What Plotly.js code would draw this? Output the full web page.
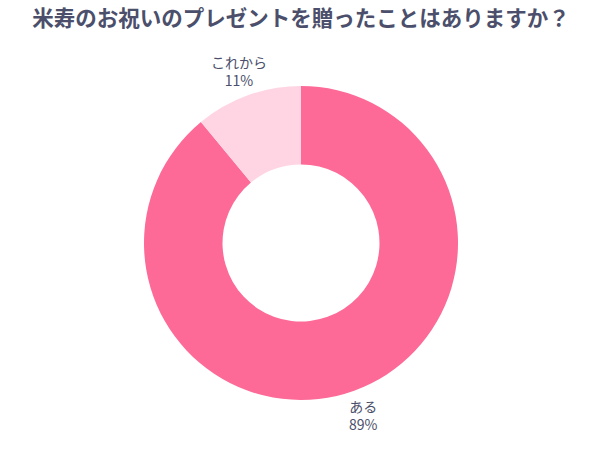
<!DOCTYPE html>
<html>
<head>
<meta charset="utf-8">
<script src="https://cdn.plot.ly/plotly-3.0.1.min.js"></script>
<style>
  html, body { margin: 0; padding: 0; background: #fff; }
  #chart { width: 602px; height: 451px; }
</style>
</head>
<body>
<div id="chart"></div>
<script>
// answers and shares (%)
var labels = ['ある', 'これから'];
var values = [89, 11];
var colors = ['#FE6A98', '#FFD5E3'];

var textColor = '#4B4F6B';
var font = '"Noto Sans CJK JP", "Noto Sans", sans-serif';

// plot area is square (314px), labels sit a bit outside the ring on each slice's mid angle
var labelRadius = 0.583;
var total = values.reduce(function(a, b) { return a + b; }, 0);
var labelAnnotations = [];
var acc = 0;
values.forEach(function(v, i) {
  var mid = (acc + v / 2) / total * 2 * Math.PI; // clockwise from 12 o'clock
  acc += v;
  labelAnnotations.push({
    xref: 'paper', yref: 'paper',
    x: 0.5 + labelRadius * Math.sin(mid),
    y: 0.5 + labelRadius * Math.cos(mid),
    xanchor: 'center', yanchor: 'middle',
    text: labels[i] + '<br>' + Math.round(v / total * 100) + '%',
    font: { family: font, size: 14, color: textColor },
    showarrow: false
  });
});

var data = [{
  type: 'pie',
  labels: labels,
  values: values,
  hole: 0.5,
  sort: false,
  direction: 'clockwise',
  rotation: 0,
  marker: { colors: colors, line: { width: 0 } },
  textinfo: 'none',
  hoverinfo: 'none',
  showlegend: false
}];

var layout = {
  width: 602,
  height: 451,
  margin: { t: 86, b: 51, l: 144, r: 144 },
  paper_bgcolor: '#ffffff',
  title: {
    text: '<b>米寿のお祝いのプレゼントを贈ったことはありますか？</b>',
    x: 0.5,
    xanchor: 'center',
    y: 0.958,
    yanchor: 'middle',
    font: { family: font, size: 21.5, color: textColor }
  },
  annotations: labelAnnotations,
  showlegend: false
};

Plotly.newPlot('chart', data, layout, { displayModeBar: false, staticPlot: true });
</script>
</body>
</html>
